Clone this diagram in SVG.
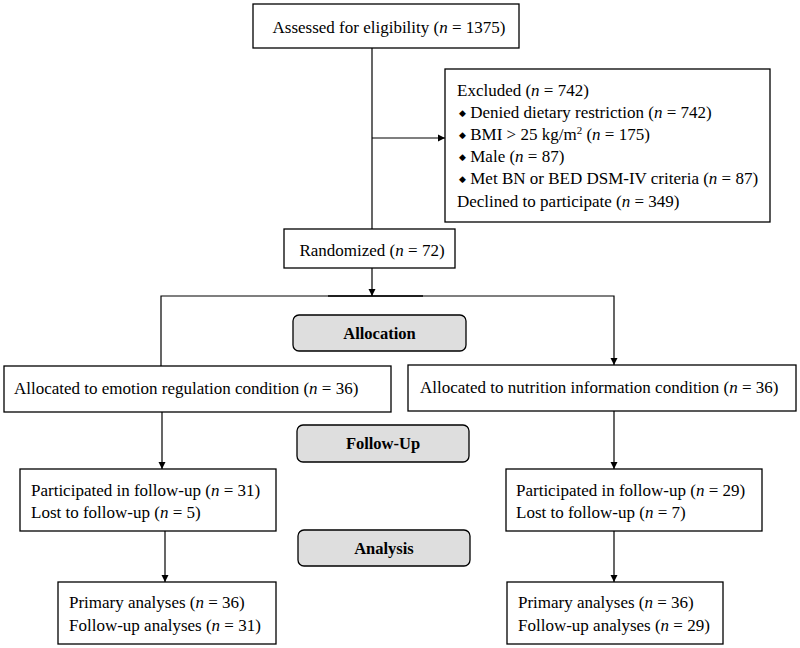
<svg xmlns="http://www.w3.org/2000/svg" width="800" height="648" viewBox="0 0 800 648">
<style>
.box{fill:#fff;stroke:#000;stroke-width:1.3}
.stage{fill:#dedede;stroke:#000;stroke-width:1.3}
.t{font-family:"Liberation Serif","Times New Roman",serif;font-size:17px;fill:#000}
.b{font-family:"Liberation Serif","Times New Roman",serif;font-size:16.5px;font-weight:bold;fill:#000}
.c{fill:none;stroke:#000;stroke-width:1.2}
.bl{font-size:9px}
</style>
<defs>
<marker id="ah" markerWidth="8" markerHeight="8" refX="7" refY="4" orient="auto" markerUnits="userSpaceOnUse">
<path d="M0,0.5 L7,4 L0,7.5 Z" fill="#000"/>
</marker>
</defs>
<rect width="800" height="648" fill="#fff"/>
<g id="connectors">
<path class="c" d="M372,48 V229"/>
<path class="c" d="M372,138 H445" marker-end="url(#ah)"/>
<path class="c" d="M372,268 V296" marker-end="url(#ah)"/>
<path class="c" d="M161,366 V296 H614 V365" marker-end="url(#ah)"/>
<path d="M328,296 H423" stroke="#000" stroke-width="1.7"/>
<path class="c" d="M162,412 V469" marker-end="url(#ah)"/>
<path class="c" d="M614,411 V469" marker-end="url(#ah)"/>
<path class="c" d="M165,531 V582" marker-end="url(#ah)"/>
<path class="c" d="M614,531 V582" marker-end="url(#ah)"/>
</g>
<g id="assessed">
<rect class="box" x="253" y="4" width="266" height="44"/>
<text class="t" x="389" y="33" text-anchor="middle" font-size="17.5">Assessed for eligibility (<tspan font-style="italic">n</tspan> = 1375)</text>
</g>
<g id="excluded">
<rect class="box" x="445" y="69" width="325" height="153"/>
<text class="t" x="457" y="96">Excluded (<tspan font-style="italic">n</tspan> = 742)</text>
<text class="t" x="459" y="118"><tspan class="bl" dy="-2">◆</tspan><tspan dy="2"> Denied dietary restriction (</tspan><tspan font-style="italic">n</tspan> = 742)</text>
<text class="t" x="459" y="140"><tspan class="bl" dy="-2">◆</tspan><tspan dy="2"> BMI &gt; 25 kg/m</tspan><tspan font-size="11" dy="-6">2</tspan><tspan dy="6"> (</tspan><tspan font-style="italic">n</tspan> = 175)</text>
<text class="t" x="459" y="162"><tspan class="bl" dy="-2">◆</tspan><tspan dy="2"> Male (</tspan><tspan font-style="italic">n</tspan> = 87)</text>
<text class="t" x="459" y="184"><tspan class="bl" dy="-2">◆</tspan><tspan dy="2"> Met BN or BED DSM-IV criteria (</tspan><tspan font-style="italic">n</tspan> = 87)</text>
<text class="t" x="457" y="207">Declined to participate (<tspan font-style="italic">n</tspan> = 349)</text>
</g>
<g id="randomized">
<rect class="box" x="284" y="229" width="171" height="39"/>
<text class="t" x="372" y="256" text-anchor="middle">Randomized (<tspan font-style="italic">n</tspan> = 72)</text>
</g>
<g id="allocation">
<rect class="stage" x="293" y="315" width="173" height="36" rx="6"/>
<text class="b" x="379.5" y="339" text-anchor="middle">Allocation</text>
</g>
<g id="alloc-left">
<rect class="box" x="4" y="366" width="387" height="46"/>
<text class="t" x="14" y="394">Allocated to emotion regulation condition (<tspan font-style="italic">n</tspan> = 36)</text>
</g>
<g id="alloc-right">
<rect class="box" x="408" y="365" width="388" height="46"/>
<text class="t" x="420" y="393">Allocated to nutrition information condition (<tspan font-style="italic">n</tspan> = 36)</text>
</g>
<g id="followup">
<rect class="stage" x="297" y="425" width="172" height="37" rx="6"/>
<text class="b" x="383" y="449" text-anchor="middle">Follow-Up</text>
</g>
<g id="part-left">
<rect class="box" x="20" y="469" width="256" height="62"/>
<text class="t" x="31" y="496">Participated in follow-up (<tspan font-style="italic">n</tspan> = 31)</text>
<text class="t" x="31" y="518">Lost to follow-up (<tspan font-style="italic">n</tspan> = 5)</text>
</g>
<g id="part-right">
<rect class="box" x="506" y="469" width="256" height="62"/>
<text class="t" x="516" y="496">Participated in follow-up (<tspan font-style="italic">n</tspan> = 29)</text>
<text class="t" x="516" y="518">Lost to follow-up (<tspan font-style="italic">n</tspan> = 7)</text>
</g>
<g id="analysis">
<rect class="stage" x="298" y="530" width="172" height="36" rx="6"/>
<text class="b" x="384" y="554" text-anchor="middle">Analysis</text>
</g>
<g id="prim-left">
<rect class="box" x="58" y="582" width="218" height="62"/>
<text class="t" x="69" y="608">Primary analyses (<tspan font-style="italic">n</tspan> = 36)</text>
<text class="t" x="69" y="631">Follow-up analyses (<tspan font-style="italic">n</tspan> = 31)</text>
</g>
<g id="prim-right">
<rect class="box" x="507" y="582" width="216" height="62"/>
<text class="t" x="518" y="608">Primary analyses (<tspan font-style="italic">n</tspan> = 36)</text>
<text class="t" x="518" y="631">Follow-up analyses (<tspan font-style="italic">n</tspan> = 29)</text>
</g>
</svg>
